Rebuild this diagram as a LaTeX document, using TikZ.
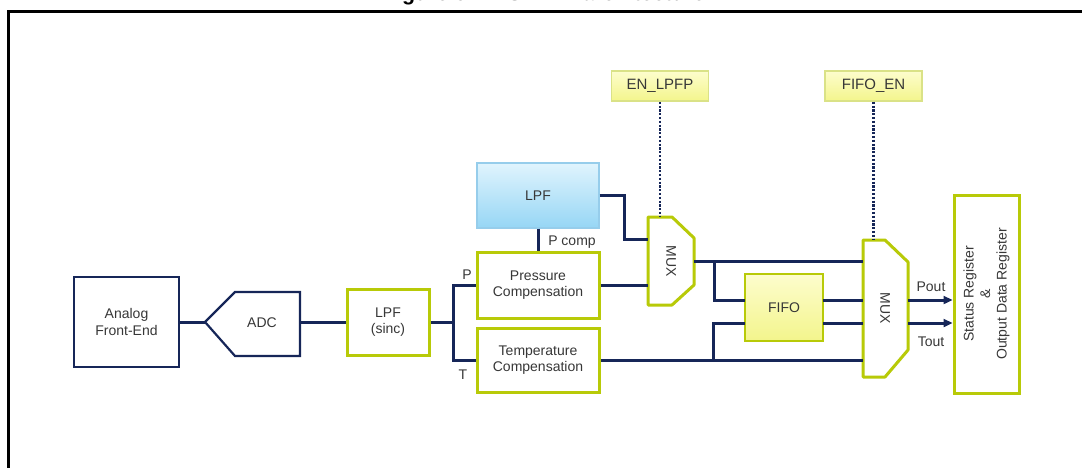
\documentclass[tikz,border=0pt]{standalone}
\usepackage{fontspec}
\setmainfont{Liberation Sans}
\usetikzlibrary{arrows.meta,shadings}

\definecolor{navy}{RGB}{22,38,88}
\definecolor{lime}{RGB}{184,202,8}
\definecolor{ink}{RGB}{55,55,55}
\definecolor{skytop}{RGB}{224,244,253}
\definecolor{skybot}{RGB}{150,214,245}
\definecolor{skyedge}{RGB}{150,205,235}
\definecolor{paletop}{RGB}{253,253,205}
\definecolor{palebot}{RGB}{243,245,140}
\definecolor{paleedge}{RGB}{218,226,135}

\tikzset{
  txt/.style={font=\fontsize{14}{16.5}\selectfont, text=ink},
  navybox/.style={draw=navy, line width=2.2pt, fill=white, txt, align=center, inner sep=0pt},
  limebox/.style={draw=lime, line width=3pt, fill=white, txt, align=center, inner sep=0pt},
  skybox/.style={draw=skyedge, line width=1.2pt, top color=skytop, bottom color=skybot, txt, inner sep=0pt},
  flagbox/.style={draw=paleedge, line width=1.5pt, top color=paletop, bottom color=palebot,
    font=\fontsize{15}{17}\selectfont, text=ink, inner sep=0pt, minimum width=97pt, minimum height=30pt},
  fifobox/.style={draw=lime, line width=2.5pt, top color=paletop, bottom color=palebot, txt, inner sep=0pt},
  muxshape/.style={draw=lime, line width=3pt, fill=white, line join=round},
  adcshape/.style={draw=navy, line width=2.2pt, fill=white, line join=miter},
  wire/.style={draw=navy, line width=3pt},
  ctrl/.style={draw=navy, line width=2.5pt, dash pattern=on 2.2pt off 1.6pt},
  tag/.style={txt, inner sep=0pt},
  arrowtip/.style={-{Triangle[length=9pt,width=8pt]}}
}

\begin{document}
\begin{tikzpicture}[x=1pt,y=-1pt]
\useasboundingbox (0,0) rectangle (1082,468);

% caption (mostly above the page edge) and figure frame
\node[anchor=base west, inner sep=0pt, font=\bfseries\fontsize{21.4}{24}\selectfont] (title)
  at (383,0.3) {Figure 5. LPS22HB architecture};
\draw[line width=2.6pt, line join=miter] (8.5,480) -- (8.5,11.5) -- (1095,11.5);

% signal chain blocks
\node[navybox, minimum width=105pt, minimum height=90pt] (afe) at (126.5,322) {Analog\\Front-End};

\draw[adcshape] (205,322) -- (235,292) -- (300,292) -- (300,356) -- (235,356) -- cycle;
\coordinate (adcin) at (205,322);
\coordinate (adcout) at (300,322);
\node[tag] (adc) at (262,323) {ADC};

\node[limebox, minimum width=82pt, minimum height=66pt] (sinc) at (388,322) {LPF\\(sinc)};
\node[limebox, minimum width=122pt, minimum height=66pt] (press) at (538,285) {Pressure\\Compensation};
\node[limebox, minimum width=122pt, minimum height=64pt] (temp) at (538,360) {Temperature\\Compensation};
\node[skybox, minimum width=122pt, minimum height=65pt] (lpf) at (538,195.5) {LPF};

% control flags
\node[flagbox] (enl) at (660,86) {EN\_LPFP};
\node[flagbox] (fen) at (873.5,86) {FIFO\_EN};

% first multiplexer
\draw[muxshape] (648,217) -- (672,217) -- (694,238) -- (694,285) -- (672,305) -- (648,305) -- cycle;
\node[tag, rotate=-90] (mux1) at (671,261) {MUX};
\coordinate (m1top) at (660,217);
\coordinate (m1a) at (648,239);
\coordinate (m1b) at (648,285);
\coordinate (m1out) at (694,261);

% FIFO
\node[fifobox, minimum width=78pt, minimum height=67pt] (fifo) at (784,307.5) {FIFO};
\coordinate (f1in) at (745,300);
\coordinate (f2in) at (745,323);
\coordinate (f1out) at (823,300);
\coordinate (f2out) at (823,323);

% second multiplexer
\draw[muxshape] (863,240) -- (885,240) -- (908,262) -- (908,350) -- (885,377) -- (863,377) -- cycle;
\node[tag, rotate=-90] (mux2) at (885,308) {MUX};
\coordinate (m2top) at (873.5,240);
\coordinate (m2a) at (863,261);
\coordinate (m2b) at (863,300);
\coordinate (m2c) at (863,323);
\coordinate (m2d) at (863,360);
\coordinate (m2p) at (908,300);
\coordinate (m2t) at (908,323);

% output registers
\node[limebox, minimum width=65pt, minimum height=198pt] (reg) at (986.5,294) {};
\node[tag, rotate=90, align=center] (regtxt) at (reg.center) {Status Register\\\&\\Output Data Register};

% connections
\draw[wire] (afe.east) -- (adcin);
\draw[wire] (adcout) -- (sinc.west);
\coordinate (split) at (453,322);
\draw[wire] (sinc.east) -- (split);
\draw[wire] (press.west) -| (split) |- (temp.west);
\draw[wire] (lpf.south -| press.north) -- (press.north);
\draw[wire] (lpf.east) -- ++(25,0) |- (m1a);
\draw[wire] (press.east) -- (m1b);
\draw[wire] (m1out) -- (m2a);
\coordinate (tap1) at (714,261);
\draw[wire] (tap1) |- (f1in);
\draw[wire] (f1out) -- (m2b);
\draw[wire] (f2out) -- (m2c);
\draw[wire] (temp.east) -- (m2d);
\coordinate (tap2) at (713,360);
\draw[wire] (tap2) |- (f2in);
\draw[wire, arrowtip] (m2p) -- (reg.west |- m2p);
\draw[wire, arrowtip] (m2t) -- (reg.west |- m2t);

\draw[ctrl] (enl.south) -- (m1top);
\draw[ctrl] (fen.south) -- (m2top);

% signal labels
\node[tag] (lp) at (467,275) {P};
\node[tag] (lt) at (463,375) {T};
\node[tag] (lpc) at (572,242) {P comp};
\node[tag] (lpo) at (931,287) {Pout};
\node[tag] (lto) at (931,342) {Tout};
\end{tikzpicture}
\end{document}
